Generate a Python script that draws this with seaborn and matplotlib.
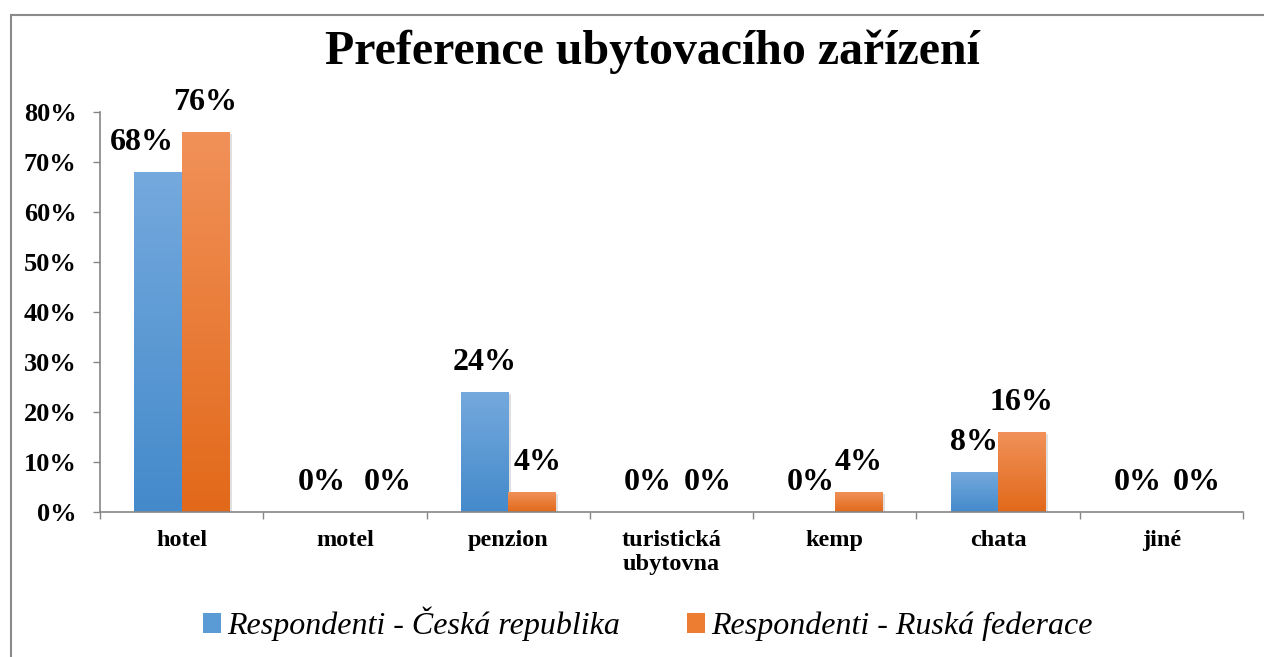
import numpy as np
import pandas as pd
import matplotlib
matplotlib.use("Agg")
import matplotlib.pyplot as plt
import seaborn as sns
from matplotlib.patches import Rectangle, Patch
from matplotlib.colors import LinearSegmentedColormap
from matplotlib import patheffects as pe

categories = ["hotel", "motel", "penzion", "turistická\nubytovna", "kemp", "chata", "jiné"]
series_names = ["Respondenti - Česká republika", "Respondenti - Ruská federace"]
cz_values = [0.68, 0.00, 0.24, 0.00, 0.00, 0.08, 0.00]
ru_values = [0.76, 0.00, 0.04, 0.00, 0.04, 0.16, 0.00]
y_ticks = [0.0, 0.1, 0.2, 0.3, 0.4, 0.5, 0.6, 0.7, 0.8]
title = "Preference ubytovacího zařízení"

sns.set_theme(style="white")
plt.rcParams["font.family"] = ["Liberation Serif", "DejaVu Serif"]

df = pd.DataFrame({
    "kategorie": categories * 2,
    "serie": [series_names[0]] * len(categories) + [series_names[1]] * len(categories),
    "hodnota": cz_values + ru_values,
})

fig = plt.figure(figsize=(12.64, 6.57), dpi=100)
ax = fig.add_axes([100 / 1264, 1 - 512 / 657, (1243 - 100) / 1264, 400 / 657])

base_cols = {series_names[0]: "#5b9bd5", series_names[1]: "#ed7d31"}
grad = {
    series_names[0]: ("#74a9dd", "#448acb"),
    series_names[1]: ("#f19159", "#e2691a"),
}
sns.barplot(data=df, x="kategorie", y="hodnota", hue="serie", order=categories,
            hue_order=series_names, palette=base_cols, width=0.58, ax=ax,
            legend=False, saturation=1, edgecolor="none")

ax.set_ylim(0, 0.8)
ax.set_xlim(-0.5, len(categories) - 0.5)

# gradient fill for bars
for cont, name in zip(ax.containers, series_names):
    cmap = LinearSegmentedColormap.from_list("g", [grad[name][1], grad[name][0]])
    for bar in cont:
        h = bar.get_height()
        if h <= 0:
            bar.set_visible(False)
            continue
        x0 = bar.get_x()
        w = bar.get_width()
        bar.set_path_effects([pe.SimplePatchShadow(offset=(2, -1.5), shadow_rgbFace="#000000", alpha=0.12), pe.Normal()])
        img = ax.imshow(np.linspace(0, 1, 100).reshape(-1, 1), cmap=cmap, origin="lower",
                        extent=[x0, x0 + w, 0, h], aspect="auto", zorder=bar.get_zorder() + 0.1,
                        interpolation="bilinear")
        img.set_clip_path(bar)

ax.set_xlim(-0.5, len(categories) - 0.5)
ax.set_ylim(0, 0.8)

# data labels (pixel shifts to mimic the original's overlap avoidance)
label_shift = {(0, 0): -16, (1, 1): 19, (1, 2): 6, (1, 3): 13, (1, 6): 12}
for si, cont in enumerate(ax.containers):
    vals = cz_values if si == 0 else ru_values
    for ci, (bar, v) in enumerate(zip(cont, vals)):
        xc = bar.get_x() + bar.get_width() / 2
        dx = label_shift.get((si, ci), 0)
        ax.annotate(f"{v * 100:.0f}%", (xc, v), xytext=(dx * 0.72, 21), textcoords="offset points",
                    ha="center", va="center", fontsize=23, fontweight="bold", color="black",
                    annotation_clip=False, zorder=5)

# axes styling
ax.set_xlabel("")
ax.set_ylabel("")
ax.set_yticks(y_ticks)
ax.set_yticklabels([f"{t * 100:.0f}%" for t in y_ticks])
ax.tick_params(axis="y", which="major", left=True, length=5, width=1, color="#868686",
               labelsize=19, pad=12)
ax.set_xticks(range(len(categories)))
ax.set_xticklabels(categories)
ax.tick_params(axis="x", which="major", bottom=False, length=0, labelsize=17.5, pad=13)
ax.set_xticks(np.arange(-0.5, len(categories), 1), minor=True)
ax.tick_params(axis="x", which="minor", bottom=True, length=5, width=1, color="#868686")
for lab in ax.get_yticklabels() + ax.get_xticklabels():
    lab.set_fontweight("bold")
    lab.set_color("black")
for lab in ax.get_xticklabels():
    lab.set_linespacing(1.2)
for s in ["top", "right"]:
    ax.spines[s].set_visible(False)
for s in ["left", "bottom"]:
    ax.spines[s].set_color("#868686")
    ax.spines[s].set_linewidth(1.2)

fig.text(652 / 1264, 1 - 52 / 657, title, ha="center", va="center",
         fontsize=34.5, fontweight="bold", color="black")

# legend
handles = [Patch(facecolor=base_cols[n], edgecolor="none") for n in series_names]
leg = fig.legend(handles, series_names, loc="center", bbox_to_anchor=(648 / 1264, 1 - 624 / 657),
                 ncol=2, frameon=False, prop={"family": "Liberation Serif", "style": "italic", "size": 23},
                 handlelength=0.56, handleheight=0.56, handletextpad=0.2, columnspacing=2.1)
for t in leg.get_texts():
    t.set_color("black")

# outer border
fig.patches.append(Rectangle((11 / 1264, -0.1), 1.2, 1 - 15 / 657 + 0.1, transform=fig.transFigure,
                             fill=False, edgecolor="#8a8a8a", linewidth=1.5, zorder=-1))

fig.savefig("out.png", dpi=100)
